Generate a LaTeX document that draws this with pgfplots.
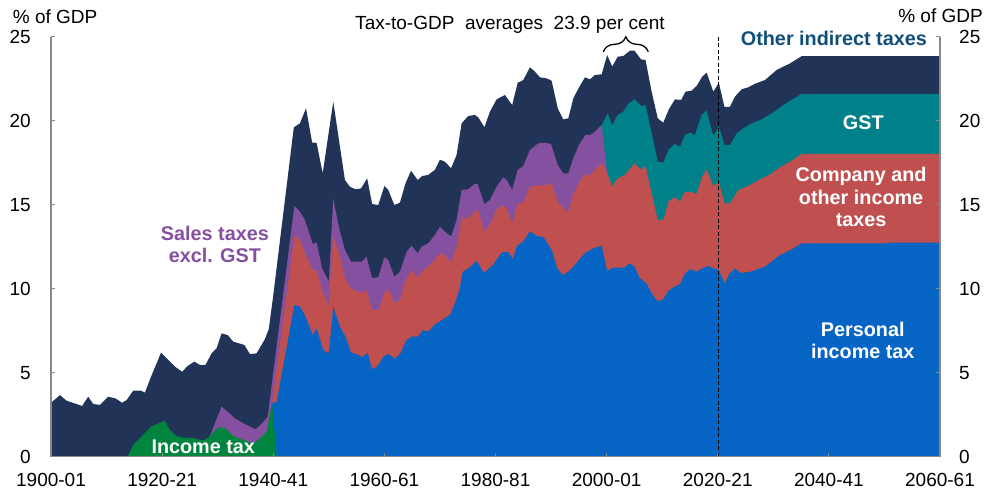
\documentclass[border=0pt]{standalone}
\usepackage{fontspec}
\setmainfont{Liberation Sans}
\usepackage{pgfplots}
\pgfplotsset{compat=1.18}
\usetikzlibrary{decorations.pathreplacing}
\definecolor{navy}{RGB}{33,52,87}
\definecolor{tealc}{RGB}{0,129,138}
\definecolor{redc}{RGB}{192,80,80}
\definecolor{purp}{RGB}{132,80,159}
\definecolor{bluec}{RGB}{5,100,196}
\definecolor{greenc}{RGB}{0,133,62}
\definecolor{oit}{RGB}{16,78,122}
\definecolor{axgray}{RGB}{137,137,137}
\newcommand{\reg}{\fontsize{19}{22}\selectfont}
\newcommand{\lbl}{\bfseries\fontsize{19.8}{23}\selectfont}
\begin{document}
\begin{tikzpicture}
\path[use as bounding box] (0,0) rectangle (987pt,490pt);
\begin{axis}[
 at={(51pt,33.3pt)}, anchor=south west,
 scale only axis, width=889pt, height=420pt,
 xmin=1900, xmax=2060, ymin=0, ymax=25,
 axis x line*=bottom, axis y line*=left,
 axis line style={axgray, line width=1.5pt},
 xtick={1900,1920,...,2060},
 xticklabels={1900-01,1920-21,1940-41,1960-61,1980-81,2000-01,2020-21,2040-41,2060-61},
 ytick={0,5,...,25},
 tick align=inside, major tick length=4pt,
 tick style={axgray, line width=1.2pt},
 tick label style={font=\reg, inner sep=0pt},
 xticklabel style={anchor=north, yshift=-16.5pt},
 yticklabel style={anchor=east, xshift=-20pt},
 /pgf/number format/assume math mode=true,
 axis on top, clip=false,
]
% Total (other indirect taxes on top)
\addplot[fill=navy, draw=none] coordinates {
(1900,3.2) (1901.6,3.67) (1902.8,3.33) (1904,3.2) (1905.6,3.02) (1906.7,3.57) (1907.6,3.14)
(1908.8,3.08) (1910.3,3.57) (1911.6,3.47) (1912.8,3.21) (1913.6,3.37) (1914.8,3.93) (1916.2,3.93)
(1916.9,3.81) (1918,4.76) (1919.8,6.19) (1921.1,5.76) (1922.3,5.36) (1923.6,5.06) (1924.6,5.4)
(1925.8,5.66) (1926.8,5.46) (1927.8,5.46) (1928.9,6.15) (1929.8,6.45) (1930.7,7.34) (1931.8,7.24)
(1932.8,6.85) (1934.8,6.65) (1935.8,6.11) (1937,6.15) (1938.5,7.0) (1939.2,7.6) (1940,9.6)
(1943.7,19.6) (1944.8,19.84) (1945.9,20.74) (1947,18.7) (1947.8,18.68) (1948.9,16.87) (1950.8,21.13)
(1952.9,16.47) (1953.8,16.07) (1954.8,15.92) (1955.8,15.97) (1956.9,16.57) (1957.8,15.04) (1958.9,14.98)
(1960,16.11) (1960.7,15.88) (1961.8,14.98) (1962.8,15.12) (1963.8,16.27) (1964.8,17.02) (1966,16.47)
(1966.8,16.71) (1967.9,16.77) (1969.1,17.08) (1970,17.68) (1970.9,17.56) (1972,17.17) (1973,17.96)
(1973.9,19.84) (1975.1,20.28) (1976.3,20.34) (1976.9,20.2) (1978,19.61) (1979,20.54) (1980.2,21.27)
(1981.7,21.53) (1983,20.93) (1984,22.26) (1985,22.42) (1986.2,23.18) (1987.1,22.92) (1988,22.58)
(1989.2,22.52) (1990.1,22.38) (1991.2,20.74) (1992.2,20.08) (1993.1,20.14) (1994,21.33) (1995.1,22.02)
(1996.1,22.58) (1997,22.46) (1997.9,22.72) (1999.1,22.76) (2000.1,23.91) (2001,23.23) (2002,23.81)
(2003,23.85) (2004.2,24.17) (2005,24.17) (2006.2,23.65) (2007,23.61) (2008.1,21.73) (2009.2,20.14)
(2010.2,19.88) (2011.2,20.68) (2012.3,21.27) (2013.4,21.23) (2014.2,21.73) (2015.3,21.79) (2016.2,22.07)
(2017.2,22.62) (2018,22.86) (2019.2,21.73) (2020.2,22.26) (2021.2,20.83) (2022.2,20.83) (2023.1,21.43)
(2024.3,21.87) (2025.5,21.99) (2026.7,22.2) (2028.5,22.42) (2030.6,23.02) (2033,23.41) (2035.1,23.84)
(2060,23.84)
} \closedcycle;
% GST top
\addplot[fill=tealc, draw=none] coordinates {
(1999.1,19.74) (2000.2,20.44) (2001,19.74) (2002,20.34) (2003,20.54) (2003.9,20.99) (2005,21.27)
(2006.2,20.87) (2007,20.93) (2008.1,19.25) (2009.2,17.56) (2010.2,17.5) (2011.2,18.3) (2012.3,18.61)
(2013.2,18.45) (2014.1,19.15) (2015,19.29) (2015.9,19.15) (2017.1,20.34) (2018,20.6) (2019.2,19.09)
(2020.2,19.68) (2021.2,18.55) (2022.2,18.55) (2023.4,19.25) (2024.6,19.55) (2026.1,19.84) (2027.9,20.08)
(2030,20.5) (2032.4,21.07) (2035.1,21.59) (2060,21.59)
} \closedcycle;
% Sales taxes excl. GST top
\addplot[fill=purp, draw=none] coordinates {
(1928.6,1.23) (1930.7,2.98) (1931.8,2.68) (1933.1,2.28) (1934.6,1.99) (1935.8,1.79) (1936.8,1.63)
(1937.9,1.95) (1939,2.38) (1943.8,14.92) (1944.8,14.58) (1945.7,14.09) (1947.1,12.66) (1947.8,12.74)
(1948.8,11.21) (1950,10.42) (1950.8,15.38) (1951.8,13.69) (1952.9,12.3) (1954,11.61) (1955.9,11.61)
(1956.8,11.9) (1957.8,10.62) (1958.9,10.68) (1960,11.87) (1960.7,11.71) (1961.8,10.71) (1962.8,11.01)
(1964,12.2) (1964.9,12.54) (1966,12.1) (1966.7,12.5) (1967.9,12.7) (1969.1,13.2) (1970,13.69)
(1970.9,13.39) (1972,13.1) (1973,14.09) (1973.9,15.88) (1975.1,15.92) (1976.2,16.23) (1976.8,16.23)
(1978,15.04) (1979,15.28) (1980.2,16.07) (1981.4,16.63) (1982,16.47) (1983,15.88) (1984,17.07)
(1985,17.3) (1986.2,18.26) (1987.7,18.65) (1988.9,18.69) (1990,18.61) (1991.2,17.36) (1992.2,16.87)
(1993.1,16.87) (1994,17.76) (1995,18.55) (1996.2,19.15) (1997,19.15) (1997.9,19.35) (1999.1,19.74)
(2000.1,16.87)
} \closedcycle;
% Company and other income taxes top
\addplot[fill=redc, draw=none] coordinates {
(1939.8,3.21) (1943.8,13.14) (1944.8,12.9) (1946,11.9) (1947.1,11.11) (1947.8,11.11) (1948.8,9.92)
(1950,9.03) (1950.8,13.2) (1952,11.9) (1953,10.52) (1954,10.02) (1955.9,9.73) (1956.8,9.92)
(1957.8,8.73) (1958.9,8.73) (1960,9.73) (1960.7,9.96) (1961.9,9.13) (1962.8,9.33) (1963.8,10.52)
(1964.9,11.11) (1966,10.68) (1966.7,11.01) (1967.9,11.31) (1968.8,11.61) (1970,12.1) (1970.9,12.0)
(1972,11.55) (1973,12.5) (1973.9,14.25) (1975.1,14.19) (1976.2,14.58) (1976.9,14.64) (1978,13.39)
(1979,13.85) (1980.2,14.68) (1981.1,14.98) (1982,14.79) (1983,13.89) (1984,15.08) (1985,15.12)
(1986.2,16.07) (1988,16.17) (1989.2,16.17) (1990.1,16.31) (1991.2,15.18) (1992.2,14.79) (1993.1,14.58)
(1994,15.68) (1995,16.27) (1996.1,16.83) (1997,16.71) (1997.9,17.07) (1999.1,17.5) (2000.1,16.87)
(2001,16.09) (2002,16.57) (2003.3,16.77) (2005,17.46) (2006.2,17.1) (2007,17.3) (2009.2,14.09)
(2010.2,14.09) (2011.2,15.24) (2012.3,15.44) (2013.2,15.18) (2014.1,15.77) (2015.3,15.77) (2016.2,15.64)
(2017.2,16.67) (2018,17.1) (2019.2,16.11) (2020.2,16.37) (2021.2,15.08) (2022.2,15.08) (2023.7,15.88)
(2025.2,16.07) (2027.6,16.5) (2029.4,16.8) (2031.2,17.23) (2033,17.56) (2035.1,18.02) (2060,18.02)
} \closedcycle;
% Personal income tax top
\addplot[fill=bluec, draw=none] coordinates {
(1939.8,3.21) (1940.6,3.25) (1943.8,9.03) (1944.8,8.93) (1945.7,8.43) (1947.1,7.24) (1947.8,7.64)
(1949,6.35) (1950,6.15) (1950.8,8.93) (1952,7.74) (1953,7.14) (1954,6.19) (1955,6.11) (1956,5.92)
(1957,6.19) (1957.8,5.2) (1958.8,5.4) (1959.8,5.95) (1960.7,6.11) (1961.9,5.83) (1962.9,6.15)
(1964,6.95) (1965.1,7.16) (1966,7.14) (1966.9,7.52) (1968,7.47) (1969.1,7.88) (1970.2,8.1)
(1971.8,8.43) (1972.7,9.13) (1973.5,9.92) (1974.1,11.01) (1975.1,11.2) (1976.6,11.65) (1977.9,10.94)
(1979.5,11.4) (1981.1,12.15) (1982.3,12.2) (1983.1,11.75) (1983.9,12.57) (1985,12.8) (1986.2,13.42)
(1987.4,13.14) (1988.6,13.08) (1990.1,12.32) (1991.1,11.21) (1992.1,10.82) (1993.1,11.01) (1994,11.31)
(1995,11.71) (1996.1,12.12) (1997.6,12.4) (1999.1,12.57) (2000.1,11.05) (2001.1,11.25) (2003.2,11.25)
(2004.1,11.51) (2005,11.31) (2006,10.62) (2007.1,10.35) (2008.1,9.73) (2009.2,9.23) (2010.2,9.38)
(2011.1,9.87) (2012.2,10.12) (2013.2,10.27) (2014.1,10.9) (2015.1,11.18) (2016.1,11.01) (2017.1,11.18)
(2018.2,11.35) (2019.2,11.21) (2020.2,11.11) (2021.2,10.32) (2022.2,10.92) (2023.1,11.21) (2024,10.94)
(2025.8,11.0) (2026.7,11.11) (2028.5,11.31) (2029.7,11.61) (2031.2,12.0) (2033.3,12.34) (2035.1,12.7)
(2050,12.7) (2052,12.75) (2060,12.75)
} \closedcycle;
% Income tax (pre-1941)
\addplot[fill=greenc, draw=none] coordinates {
(1913.8,0) (1914.8,0.7) (1916.3,1.19) (1918,1.79) (1919.6,2.02) (1920.5,2.14) (1921.4,1.59)
(1922.6,1.23) (1923.5,1.15) (1925.9,1.1) (1927.4,0.95) (1928.6,1.23) (1930.1,1.75) (1931.4,1.69)
(1932.8,1.23) (1934.3,1.04) (1935.5,0.89) (1936.7,0.83) (1937.9,1.19) (1938.8,1.49) (1939.8,3.2)
(1940.6,0)
} \closedcycle;
% Projection start
\addplot[black, line width=1.2pt, dash pattern=on 4pt off 2.5pt] coordinates {(2020.2,0) (2020.2,25.1)};
% Annotations
\draw[decorate, decoration={brace, amplitude=15pt}, line width=1.3pt] (axis cs:1999.4,24.1) -- (axis cs:2007.5,24.1);
\node[anchor=base, font=\reg, inner sep=0pt] at (axis cs:1982.6,25.4) {Tax-to-GDP\ \ averages\ \ 23.9 per cent};
\node[anchor=base, font=\lbl, text=purp, inner sep=0pt] at (axis cs:1929.5,12.86) {Sales taxes};
\node[anchor=base, font=\lbl, text=purp, inner sep=0pt] at (axis cs:1929.5,11.57) {excl. GST};
\node[anchor=base, font=\lbl, text=white, inner sep=0pt] at (axis cs:1927.4,0.2) {Income tax};
\node[anchor=base, font=\lbl, text=oit, inner sep=0pt] at (axis cs:2040.9,24.5) {Other indirect taxes};
\node[anchor=base, font=\lbl, text=white, inner sep=0pt] at (axis cs:2046.2,19.49) {GST};
\node[anchor=base, font=\lbl, text=white, inner sep=0pt] at (axis cs:2045.8,16.37) {Company and};
\node[anchor=base, font=\lbl, text=white, inner sep=0pt] at (axis cs:2045.8,15.04) {other income};
\node[anchor=base, font=\lbl, text=white, inner sep=0pt] at (axis cs:2045.8,13.69) {taxes};
\node[anchor=base, font=\lbl, text=white, inner sep=0pt] at (axis cs:2046.1,7.18) {Personal};
\node[anchor=base, font=\lbl, text=white, inner sep=0pt] at (axis cs:2046.1,5.86) {income tax};
\end{axis}
\begin{axis}[
 at={(51pt,33.3pt)}, anchor=south west,
 scale only axis, width=889pt, height=420pt,
 xmin=1900, xmax=2060, ymin=0, ymax=25,
 axis x line=none, axis y line*=right,
 axis line style={axgray, line width=1.5pt},
 ytick={0,5,...,25},
 tick align=inside, major tick length=4pt,
 tick style={axgray, line width=1.2pt},
 tick label style={font=\reg, inner sep=0pt},
 yticklabel style={anchor=west, xshift=19pt},
 /pgf/number format/assume math mode=true,
]
\addplot[draw=none] coordinates {(1900,0) (2060,25)};
\end{axis}
\node[anchor=base west, font=\reg, inner sep=0pt] at (12.7pt,466.7pt) {\% of GDP};
\node[anchor=base east, font=\reg, inner sep=0pt] at (983pt,467.3pt) {\% of GDP};
\end{tikzpicture}
\end{document}
